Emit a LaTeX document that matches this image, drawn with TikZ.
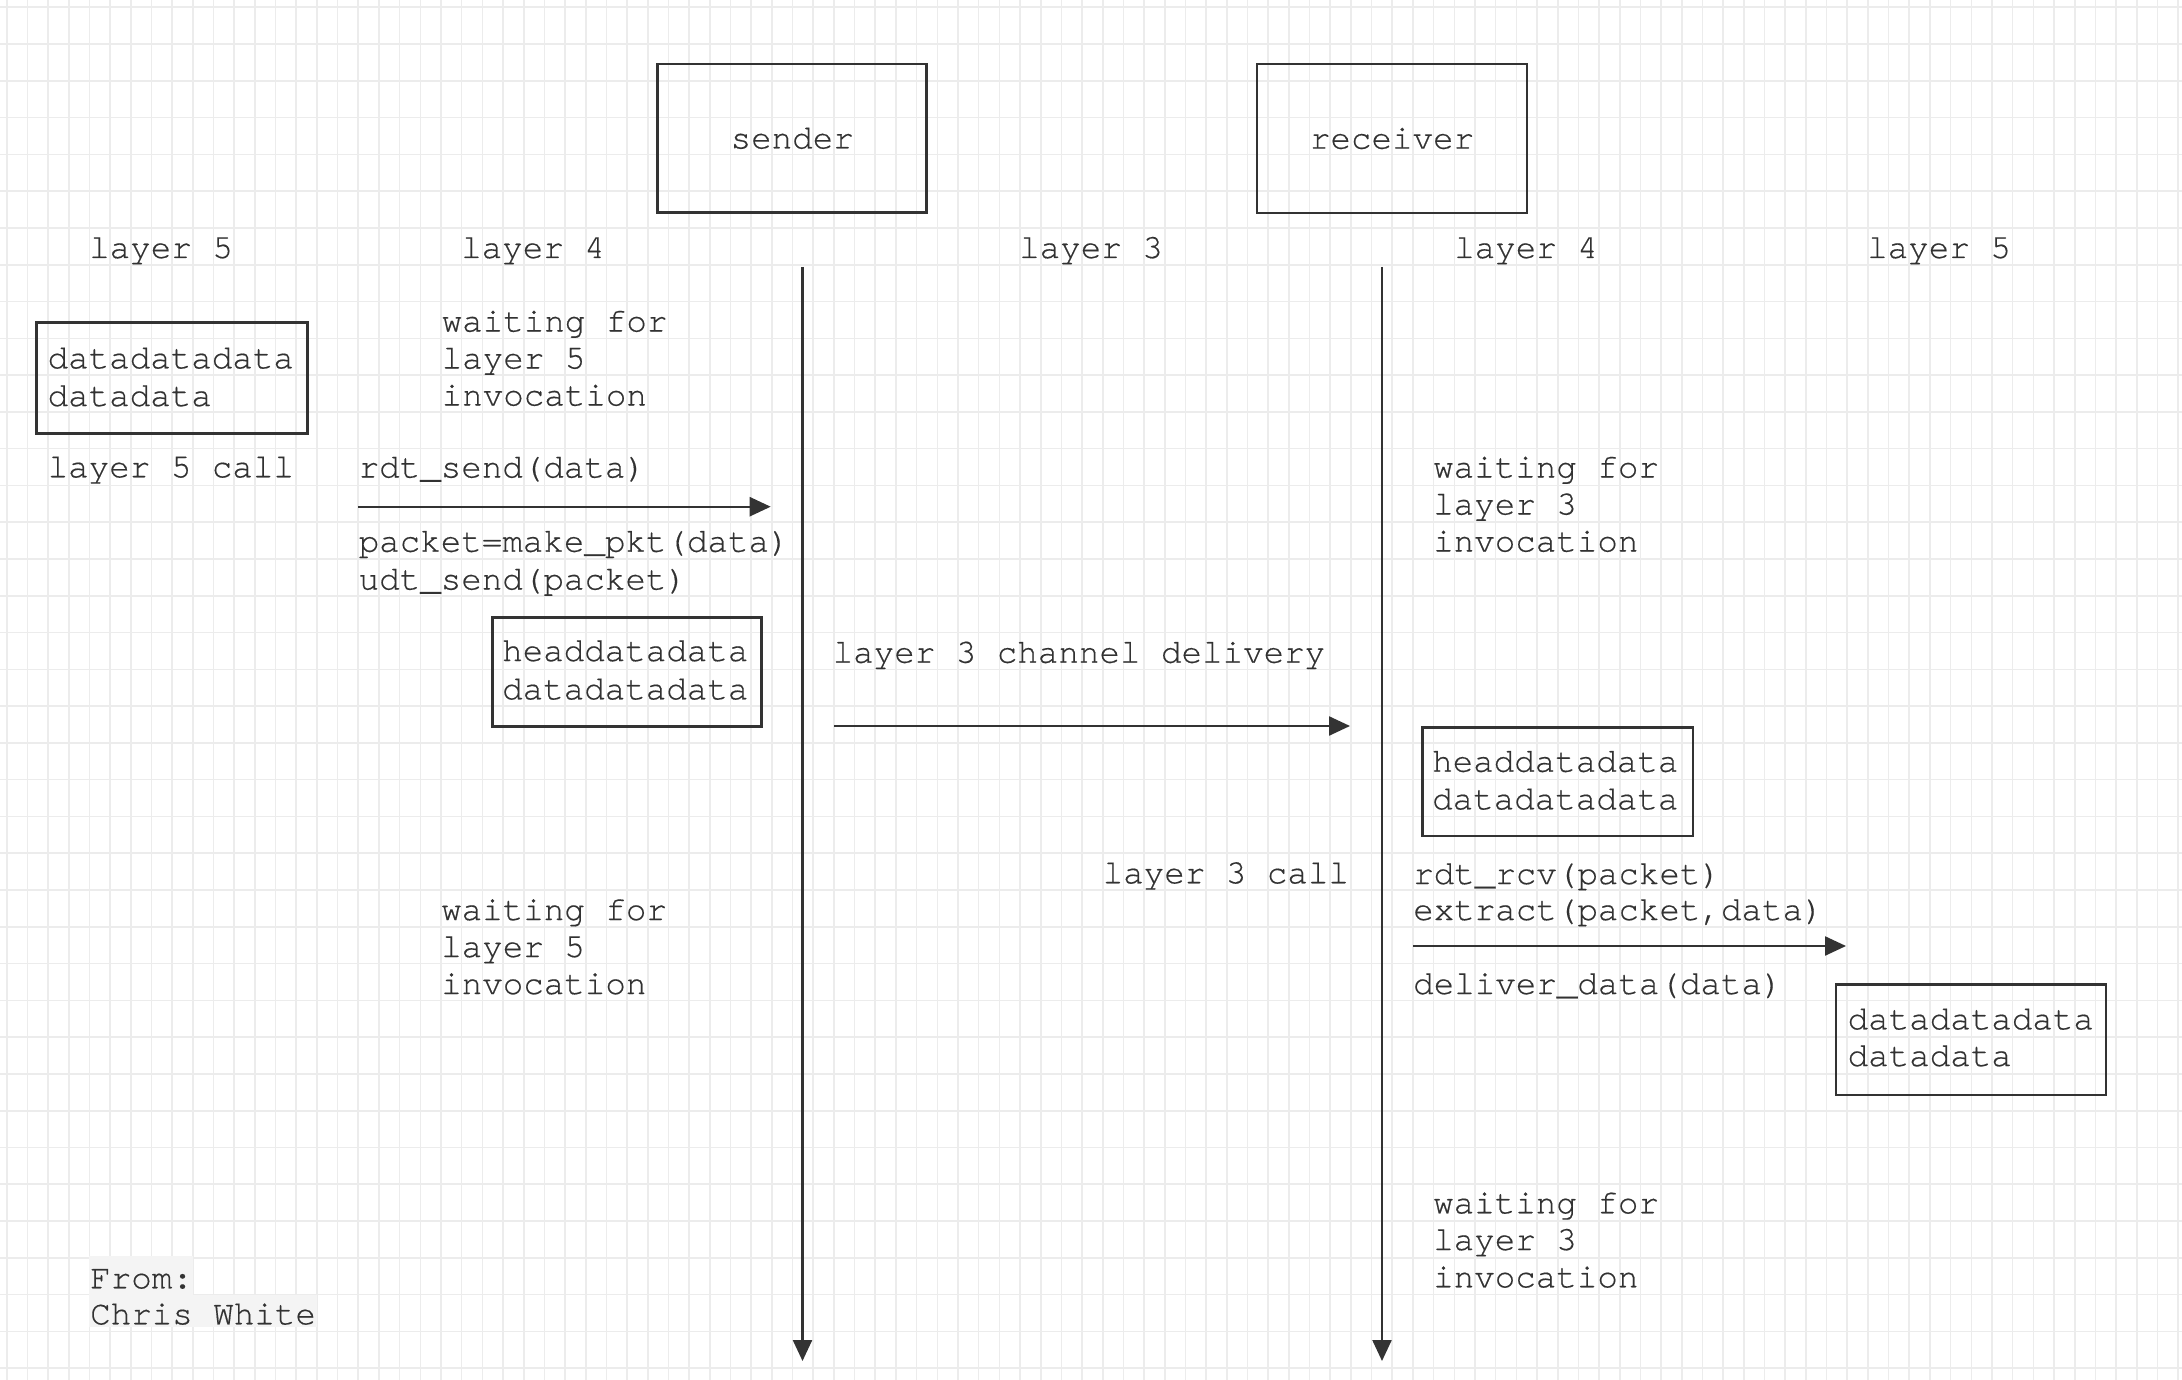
\documentclass[tikz,border=0pt]{standalone}
\usepackage{fontspec}
\usetikzlibrary{arrows.meta,calc}
\newfontfamily\codefont{TeX Gyre Cursor}[FakeBold=0.4]
\definecolor{inkline}{RGB}{51,51,51}
\definecolor{inktext}{RGB}{50,50,50}
\definecolor{gridline}{RGB}{236,236,236}
\definecolor{markbg}{RGB}{244,244,244}

\begin{document}
\begin{tikzpicture}[x=1pt,y=-1pt,
  codetext/.style={font=\codefont\fontsize{34.2}{37.3}\selectfont, text=inktext},
  lbl/.style={codetext, inner sep=0pt, anchor=base west},
  frame/.style={codetext, draw=inkline, line width=2.7pt, inner sep=0pt},
  flow/.style={draw=inkline, line width=2.4pt, -{Triangle[length=21pt,width=19pt]}},
  gridrule/.style={draw=gridline, line width=1.6pt}
]
% canvas
\fill[white] (0,0) rectangle (2182,1380);
\useasboundingbox (0,0) rectangle (2182,1380);

% background grid
\foreach \i in {0,...,105} \draw[gridrule] ({6.7+20.68*\i},0) -- ++(0,1380);
\foreach \j in {0,...,37} \draw[gridrule] (0,{7.3+36.78*\j}) -- ++(2182,0);

% entities
\node[frame, minimum width=269pt, minimum height=148.7pt] (sender) at (792.2,138.4) {sender};
\node[frame, minimum width=270pt, minimum height=149pt] (receiver) at (1392,138.5) {receiver};

% layer headings
\node[lbl] (hl5) at (89,258) {layer 5};
\node[lbl] (hl4) at (461,258) {layer 4};
\node[lbl] (hl3) at (1019,258) {layer 3};
\node[lbl] (hr4) at (1454,258) {layer 4};
\node[lbl] (hr5) at (1867,258) {layer 5};

% lifelines
\coordinate (sTop) at (802.5,267);
\coordinate (sEnd) at (802.5,1361);
\coordinate (rTop) at (1382,267);
\coordinate (rEnd) at (1382,1361);
\draw[flow] (sTop) -- (sEnd);
\draw[flow] (rTop) -- (rEnd);

% sender side
\node[lbl] (ws1) at (441.5,331.5) {waiting for};
\node[lbl] (ws2) at (441.5,368.5) {layer 5};
\node[lbl] (ws3) at (441.5,405.5) {invocation};

\node[frame, minimum width=270.6pt, minimum height=110.6pt] (appdata) at (172,378) {};
\node[lbl] (appdata1) at (47.5,368.3) {datadatadata};
\node[lbl] (appdata2) at (47.5,406) {datadata};
\node[lbl] (l5call) at (47.5,477.3) {layer 5 call};

\node[lbl] (rdtsend) at (358.5,477.5) {rdt\_send(data)};
\coordinate (sendA) at (358.3,506.7);
\coordinate (sendB) at (770.7,506.7);
\draw[flow] (sendA) -- (sendB);
\node[lbl] (mkpkt) at (358.5,551.7) {packet=make\_pkt(data)};
\node[lbl] (udtsend) at (358.5,589.5) {udt\_send(packet)};

\node[frame, minimum width=269.4pt, minimum height=109.4pt] (pktL) at (627,672) {};
\node[lbl] (pktL1) at (502,661) {headdatadata};
\node[lbl] (pktL2) at (502,699.3) {datadatadata};

\node[lbl] (wsb1) at (441,920) {waiting for};
\node[lbl] (wsb2) at (441,957) {layer 5};
\node[lbl] (wsb3) at (441,994) {invocation};

% channel
\node[lbl] (chan) at (832.5,662.7) {layer 3 channel delivery};
\coordinate (chanA) at (834.4,726);
\coordinate (chanB) at (1350,726);
\draw[flow] (chanA) -- (chanB);
\node[lbl] (l3call) at (1102.5,883.3) {layer 3 call};

% receiver side
\node[lbl] (wr1) at (1433,477.5) {waiting for};
\node[lbl] (wr2) at (1433,514.5) {layer 3};
\node[lbl] (wr3) at (1433,551.5) {invocation};

\node[frame, minimum width=270.5pt, minimum height=108.7pt] (pktR) at (1557.75,781.65) {};
\node[lbl] (pktR1) at (1432,771.7) {headdatadata};
\node[lbl] (pktR2) at (1432,809.3) {datadatadata};

\node[lbl] (rdtrcv) at (1413,884) {rdt\_rcv(packet)};
\node[lbl] (extract) at (1413,920) {extract(packet,data)};
\coordinate (delA) at (1413,946);
\coordinate (delB) at (1846,946);
\draw[flow] (delA) -- (delB);
\node[lbl] (deliver) at (1413,994) {deliver\_data(data)};

\node[frame, minimum width=270pt, minimum height=110.7pt] (outdata) at (1971,1039.65) {};
\node[lbl] (outdata1) at (1847.5,1029.3) {datadatadata};
\node[lbl] (outdata2) at (1847.5,1066) {datadata};

\node[lbl] (wrb1) at (1433,1213.3) {waiting for};
\node[lbl] (wrb2) at (1433,1250) {layer 3};
\node[lbl] (wrb3) at (1433,1287.3) {invocation};

% credit
\fill[markbg] (89.3,1256) rectangle (192.7,1295);
\fill[markbg] (89.3,1295) rectangle (316.7,1327);
\node[lbl] (from1) at (90,1288.3) {From:};
\node[lbl] (from2) at (90,1324.3) {Chris White};
\end{tikzpicture}
\end{document}
